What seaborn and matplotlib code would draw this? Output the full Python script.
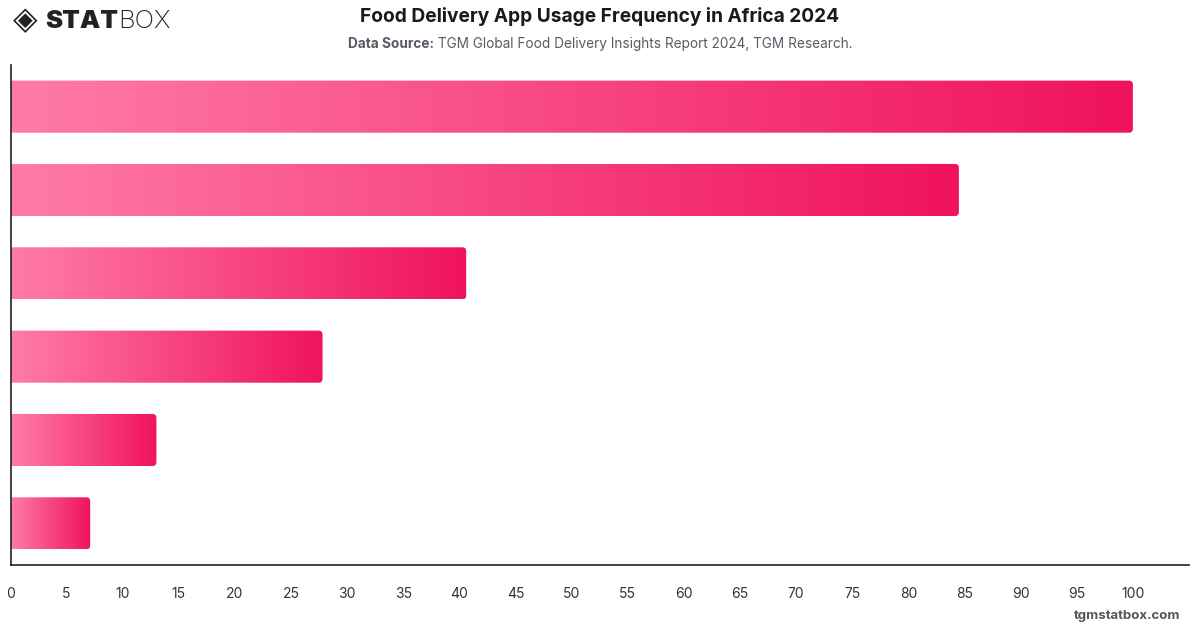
import matplotlib
matplotlib.use("Agg")
import matplotlib.pyplot as plt
from matplotlib.patches import FancyBboxPatch
from matplotlib.colors import LinearSegmentedColormap
import numpy as np
import pandas as pd
import seaborn as sns

# data (category names are not shown on the chart)
categories = ["Several times a week", "Once a week", "A few times a month",
              "Once a month", "Less often", "Never"]
values = [100, 84.5, 40.6, 27.8, 13.0, 7.1]
x_ticks = list(range(0, 101, 5))

title = "Food Delivery App Usage Frequency in Africa 2024"
source_label = "Data Source:"
source_text = " TGM Global Food Delivery Insights Report 2024, TGM Research."

W, H = 1200, 628
sns.set_style("white")
plt.rcParams['font.family'] = ['Inter', 'DejaVu Sans']

fig = plt.figure(figsize=(W / 100, H / 100), dpi=100)
ax = fig.add_axes([10.5 / W, 1 - 565 / H, (1189 - 10.5) / W, 500 / H])

df = pd.DataFrame({"category": categories, "value": values})
sns.barplot(data=df, x="value", y="category", orient="h", width=0.625,
            color="#F01464", ax=ax)

ax.set_xlim(0, 105)
ax.set_ylim(len(categories) - 0.5, -0.5)

# swap every flat bar for a gradient one with rounded right end
cmap = LinearSegmentedColormap.from_list("pinks", ["#FF7BA7", "#F0125F"])
grad = np.linspace(0, 1, 256).reshape(1, -1)
xr = 105 / (1189 - 10.5)   # data units per pixel (x)
yr = 6 / 500               # data units per pixel (y)
for bar in list(ax.patches):
    x0, y0 = bar.get_x(), bar.get_y()
    w, h = bar.get_width(), bar.get_height()
    bar.set_visible(False)
    r = 4 * xr
    clip = FancyBboxPatch((x0 - 2, y0), w + 2, h,
                          boxstyle=f"round,pad=0,rounding_size={r}",
                          mutation_aspect=yr / xr,
                          facecolor="none", edgecolor="none",
                          transform=ax.transData)
    ax.add_patch(clip)
    im = ax.imshow(grad, cmap=cmap, aspect="auto", interpolation="bilinear",
                   extent=(x0, x0 + w, y0 + h, y0), zorder=2)
    im.set_clip_path(clip)

ax.set_xlim(0, 105)
ax.set_ylim(len(categories) - 0.5, -0.5)
ax.set_xticks(x_ticks)
ax.set_xticklabels([str(t) for t in x_ticks])
ax.set_yticks([])
ax.set_xlabel("")
ax.set_ylabel("")
ax.tick_params(axis="x", length=0, pad=16, labelsize=10, labelcolor="#333333")
for side in ["top", "right"]:
    ax.spines[side].set_visible(False)
for side in ["left", "bottom"]:
    ax.spines[side].set_color("#222222")
    ax.spines[side].set_linewidth(1.2)

# title and source line
fig.text(0.5, 1 - 17 / H, title, ha="center", va="center",
         fontsize=13.8, fontweight="bold", color="#1a1a1a")

fig.canvas.draw()
renderer = fig.canvas.get_renderer()
t1 = fig.text(0, 1 - 44 / H, source_label, ha="left", va="center",
              fontsize=9.8, fontweight="bold", color="#5a5a66")
t2 = fig.text(0, 1 - 44 / H, source_text, ha="left", va="center",
              fontsize=9.8, color="#5a5a66")
w1 = t1.get_window_extent(renderer).width
w2 = t2.get_window_extent(renderer).width
start = (W - (w1 + w2)) / 2
t1.set_x(start / W)
t2.set_x((start + w1) / W)

# logo
fig.text(13 / W, 1 - 21 / H, "\u25C8", ha="left", va="center", fontsize=23,
         color="#222222", family=["DejaVu Sans"])
lt = fig.text(45 / W, 1 - 21 / H, "STAT", ha="left", va="center", fontsize=18.5,
              fontweight="black", color="#222222")
lw = lt.get_window_extent(renderer).width
fig.text((45 + lw) / W, 1 - 21 / H, "BOX", ha="left", va="center", fontsize=18.5,
         fontweight="light", color="#222222")

# watermark
fig.text(1180 / W, 1 - 616 / H, "tgmstatbox.com", ha="right", va="center",
         fontsize=9.5, fontweight="bold", color="#555555")

fig.savefig("out.png", dpi=100)
plt.close(fig)
